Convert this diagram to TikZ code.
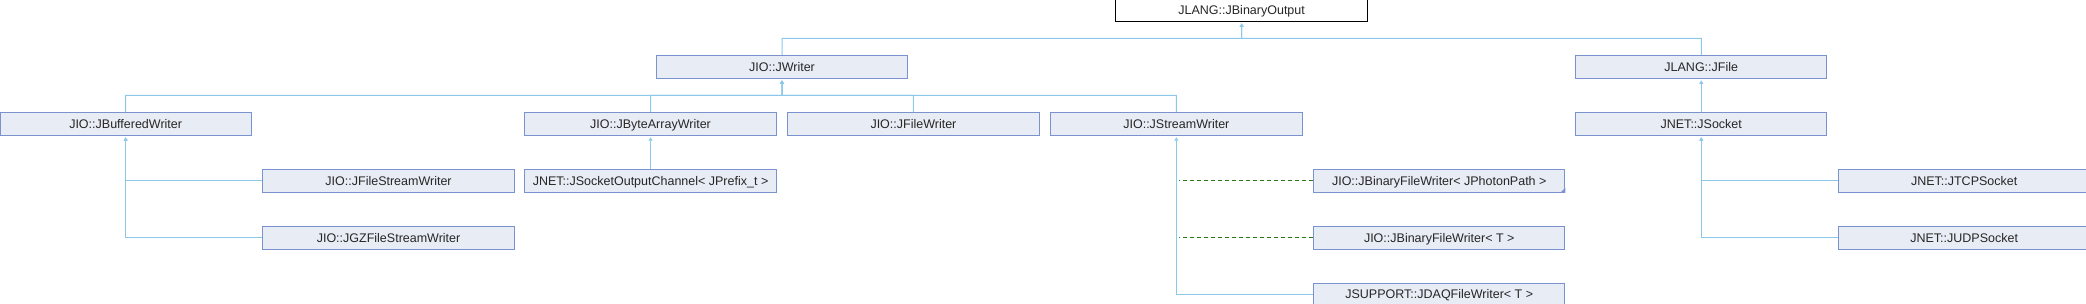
\documentclass[tikz,border=0pt]{standalone}
\usepackage{fontspec}
\setmainfont{Liberation Sans}
\usepackage{xcolor}
\usepackage{tikz}
\usetikzlibrary{arrows.meta, positioning, calc}
\definecolor{boxfill}{RGB}{232,236,245}
\definecolor{boxline}{RGB}{122,146,206}
\definecolor{linkblue}{RGB}{140,200,234}
\definecolor{tmplgreen}{RGB}{40,120,20}
\tikzstyle{cls}   = [rectangle, minimum width=251.3pt, minimum height=23pt,
                     inner sep=0pt, text height=9.5pt, text depth=0.6pt,
                     text centered, draw=boxline, fill=boxfill,
                     line width=0.9pt, text=black!85,
                     font=\fontsize{12.5pt}{14pt}\selectfont]
\tikzstyle{root}  = [cls, minimum width=252.6pt, draw=black, fill=white]
\tikzstyle{inh}   = [-{Triangle[length=3.5pt, width=4pt]}, shorten >=1.5pt,
                     draw=linkblue, line width=1pt]
\tikzstyle{tmpl}  = [draw=tmplgreen, line width=1pt, dash pattern=on 4pt off 3pt]
\tikzstyle{more}  = [fill=boxline]

\begin{document}
\begin{tikzpicture}[x=1pt, y=-1pt, node distance=33pt and 10.7pt]
  \useasboundingbox (0,0) rectangle (2086,304);

  % level 2
  \node[cls] (bw) at (125.65,123.8) {JIO::JBufferedWriter};
  \node[cls, right=272.7pt of bw] (baw) {JIO::JByteArrayWriter};
  \node[cls, right=of baw] (fw) {JIO::JFileWriter};
  \node[cls, right=of fw] (sw) {JIO::JStreamWriter};
  \node[cls, right=272.7pt of sw] (jsock) {JNET::JSocket};

  % level 1 and top
  \node[cls, above=33pt] (writer) at ($(baw.north)!0.5!(fw.north)$) {JIO::JWriter};
  \node[cls, above=of jsock] (jfile) {JLANG::JFile};
  \node[root, above=33pt] (out) at ($(writer.north)!0.5!(jfile.north)$)
    {JLANG::JBinaryOutput};

  % level 3 and below
  \node[cls, below right=of bw] (fsw) {JIO::JFileStreamWriter};
  \node[cls, below=of fsw] (gzw) {JIO::JGZFileStreamWriter};
  \node[cls, below=of baw] (soc) {JNET::JSocketOutputChannel< JPrefix\_t >};
  \node[cls, below right=of sw] (bfp) {JIO::JBinaryFileWriter< JPhotonPath >};
  \node[cls, below=of bfp] (bft) {JIO::JBinaryFileWriter< T >};
  \node[cls, below=of bft] (daq) {JSUPPORT::JDAQFileWriter< T >};
  \node[cls, below right=of jsock] (tcp) {JNET::JTCPSocket};
  \node[cls, below=of tcp] (udp) {JNET::JUDPSocket};

  \coordinate (bus0) at ($(out.south)!0.5!(out.south |- writer.north)$);
  \coordinate (bus1) at ($(writer.south)!0.5!(writer.south |- bw.north)$);

  \draw[inh] (writer.north) |- (bus0) -- (out.south);
  \draw[inh] (jfile.north) |- (bus0) -- (out.south);
  \draw[inh] (bw.north) |- (bus1) -- (writer.south);
  \draw[inh] (baw.north) |- (bus1) -- (writer.south);
  \draw[inh] (fw.north) |- (bus1) -- (writer.south);
  \draw[inh] (sw.north) |- (bus1) -- (writer.south);
  \draw[inh] (fsw.west) -| (bw.south);
  \draw[inh] (gzw.west) -| (bw.south);
  \draw[inh] (soc) -- (baw);
  \draw[inh] (daq.west) -| (sw.south);
  \draw[inh] (jsock) -- (jfile);
  \draw[inh] (tcp.west) -| (jsock.south);
  \draw[inh] (udp.west) -| (jsock.south);

  % template instances
  \draw[tmpl] (bfp.west) -- ([xshift=3pt]bfp.west -| sw.south);
  \draw[tmpl] (bft.west) -- ([xshift=3pt]bft.west -| sw.south);

  \fill[more] (bfp.south east) -- ++(-5,0) -- ++(5,-5) -- cycle;
  \fill[more] (tcp.south east) -- ++(-5,0) -- ++(5,-5) -- cycle;
\end{tikzpicture}
\end{document}
